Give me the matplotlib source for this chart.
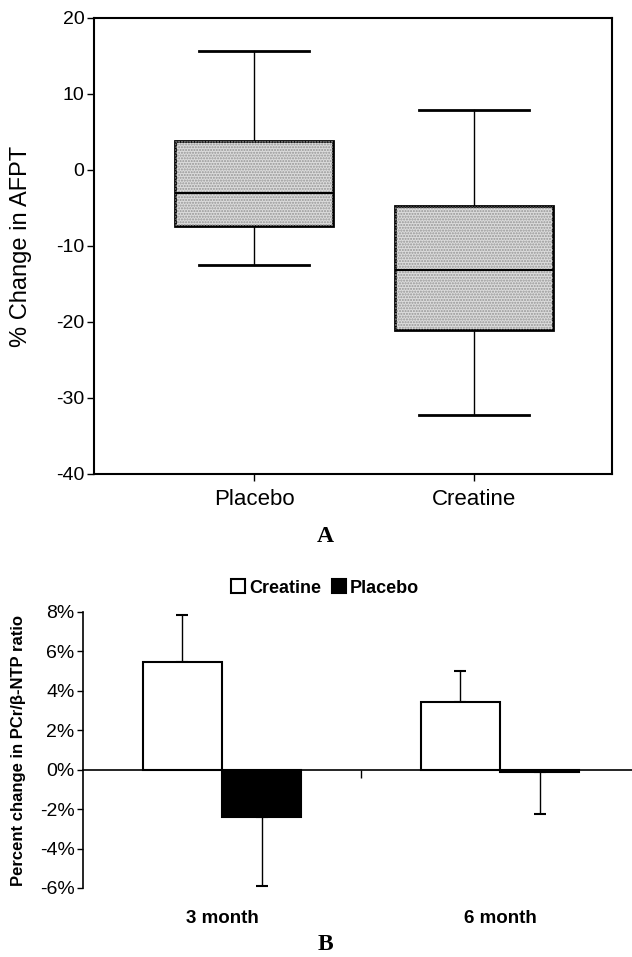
import matplotlib
matplotlib.use("Agg")
import matplotlib.pyplot as plt
from matplotlib.patches import PathPatch
import numpy as np

plt.rcParams['font.family'] = ['Liberation Sans', 'DejaVu Sans']

# ---- Panel A data (box plot) ----
groups_a = ["Placebo", "Creatine"]
whisker_low = [-12.5, -32.3]
q1 = [-7.4, -21.0]
median = [-3.0, -13.2]
q3 = [3.8, -4.7]
whisker_high = [15.7, 7.9]
yticks_a = [20, 10, 0, -10, -20, -30, -40]

# ---- Panel B data (bars) ----
timepoints = ["3 month", "6 month"]
creatine_b = [5.45, 3.45]
creatine_err = [2.4, 1.55]
placebo_b = [-2.4, -0.1]
placebo_err = [3.5, 2.15]
yticks_b = [8, 6, 4, 2, 0, -2, -4, -6]

W, H = 632, 957
fig = plt.figure(figsize=(W / 100, H / 100), dpi=100)

# ---------------- Panel A ----------------
axA = fig.add_axes([94 / W, 1 - 474 / H, 518 / W, (474 - 18) / H])
stats = []
for i, g in enumerate(groups_a):
    stats.append(dict(label=g, whislo=whisker_low[i], q1=q1[i], med=median[i],
                      q3=q3[i], whishi=whisker_high[i], fliers=[]))
pos = np.arange(1, len(groups_a) + 1)
bp = axA.bxp(stats, positions=pos, widths=0.72, patch_artist=True,
             showfliers=False, capwidths=0.5,
             boxprops=dict(facecolor='#dcdcdc', edgecolor='black', linewidth=2),
             medianprops=dict(color='black', linewidth=1.5),
             whiskerprops=dict(color='black', linewidth=1),
             capprops=dict(color='black', linewidth=2))
for b in bp['boxes']:
    overlay = PathPatch(b.get_path(), transform=b.get_transform(), fill=False,
                        hatch='......', edgecolor='#959595', linewidth=0, zorder=b.get_zorder() + 0.1)
    axA.add_patch(overlay)
for m in bp['medians']:
    m.set_zorder(5)
axA.set_xlim(0.273, 2.627)
axA.set_ylim(-40, 20)
axA.set_yticks(yticks_a)
axA.set_yticklabels([str(t) for t in yticks_a], fontsize=14)
axA.set_xticks(pos)
axA.set_xticklabels(groups_a, fontsize=16)
axA.tick_params(axis='y', direction='out', length=5, width=1, pad=2)
axA.tick_params(axis='x', direction='out', length=5, width=1, pad=6)
for s in axA.spines.values():
    s.set_linewidth(1.5)
axA.set_ylabel("% Change in AFPT", fontsize=17)
axA.yaxis.set_label_coords(-0.12, 0.5)
fig.text(325 / W, 1 - 537 / H, "A", ha='center', va='center', fontsize=17,
         fontweight='bold', family=['Liberation Serif', 'DejaVu Serif'])

# ---------------- Panel B ----------------
axB = fig.add_axes([83 / W, 1 - 888 / H, (W - 83) / W, (888 - 612) / H])
x = np.arange(len(timepoints))
bw = 0.285
axB.bar(x - bw / 2, creatine_b, bw, color='white', edgecolor='black', linewidth=1.5,
        label='Creatine', zorder=3)
axB.bar(x + bw / 2, placebo_b, bw, color='black', edgecolor='black', linewidth=1.5,
        label='Placebo', zorder=3)
axB.errorbar(x - bw / 2, creatine_b, yerr=[np.zeros(len(x)), creatine_err], fmt='none',
             ecolor='black', elinewidth=1, capsize=4, capthick=1.5, zorder=2)
axB.errorbar(x + bw / 2, placebo_b, yerr=[placebo_err, np.zeros(len(x))], fmt='none',
             ecolor='black', elinewidth=1, capsize=4, capthick=1.5, zorder=2)
axB.set_xlim(-0.5, -0.5 + (W - 83) / 278)
axB.set_ylim(-6, 8)
axB.set_yticks(yticks_b)
axB.set_yticklabels([f"{t}%" for t in yticks_b], fontsize=14)
axB.tick_params(axis='y', direction='out', length=4, width=1, pad=2)
axB.set_xticks(x)
axB.set_xticklabels(timepoints, fontsize=13.5, fontweight='bold')
axB.tick_params(axis='x', length=0, pad=16)
for side in ['top', 'right', 'bottom']:
    axB.spines[side].set_visible(False)
axB.spines['left'].set_linewidth(1.2)
zero_ax = axB.secondary_xaxis(0, transform=axB.transData)
zero_ax.set_xticks(x[:-1] + 0.5)
zero_ax.set_xticklabels([])
zero_ax.tick_params(direction='out', length=6, width=1)
zero_ax.spines['bottom'].set_linewidth(1.2)
axB.set_ylabel("Percent change in PCr/β-NTP ratio", fontsize=12, fontweight='bold')
axB.yaxis.set_label_coords(-0.104, 0.5)
leg = fig.legend(handles=axB.containers[:2], labels=['Creatine', 'Placebo'], ncol=2,
                 loc='center', bbox_to_anchor=(325 / W, 1 - 588 / H), frameon=False,
                 prop=dict(size=13, weight='bold'), handlelength=0.8, handleheight=0.8,
                 handletextpad=0.2, columnspacing=0.6)
fig.text(325 / W, 1 - 945 / H, "B", ha='center', va='center', fontsize=17,
         fontweight='bold', family=['Liberation Serif', 'DejaVu Serif'])

fig.savefig("out.png", dpi=100)
